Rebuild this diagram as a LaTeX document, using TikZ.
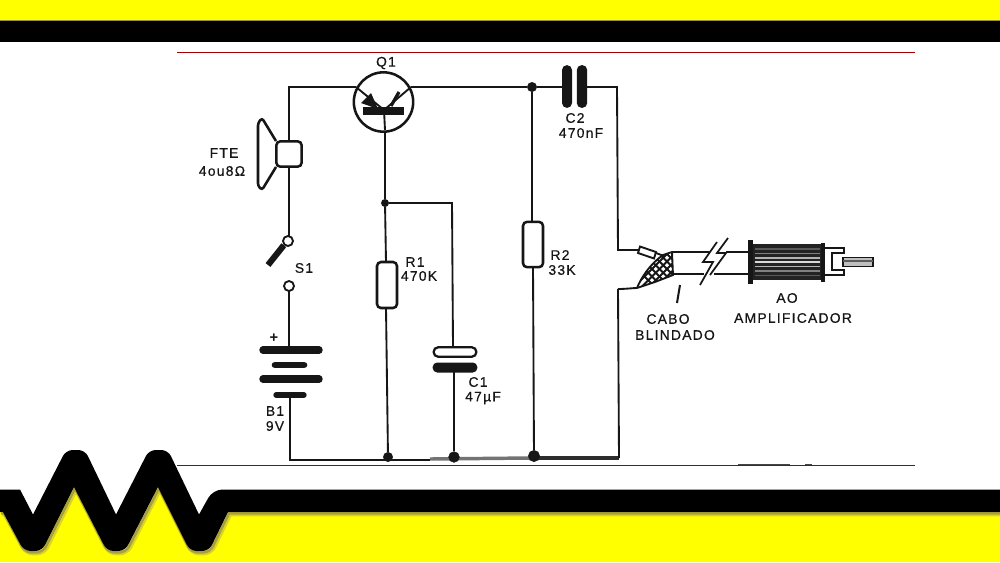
\documentclass[tikz,border=0pt]{standalone}
\usepackage{fontspec}
\setmainfont{Liberation Sans}
\newfontfamily\lab[LetterSpace=9,FakeBold=0.5]{Liberation Sans}
\usetikzlibrary{arrows.meta}
\definecolor{bandyellow}{RGB}{255,255,0}
\definecolor{rulered}{RGB}{160,0,0}
\definecolor{ink}{RGB}{22,22,22}
\tikzset{
  wire/.style={draw=ink,line width=1.4pt},
  plate/.style={draw=ink,line width=5.6pt,line cap=round},
  dot/.style={circle,fill=ink,draw=ink,inner sep=0pt,minimum size=7pt},
  openc/.style={circle,draw=ink,line width=1.4pt,fill=white,inner sep=0pt,minimum size=7.5pt},
  body/.style={draw=ink,line width=1.9pt,fill=white,rounded corners=3pt},
  lbl/.style={font=\lab\fontsize{10.4}{11}\selectfont,text=ink,inner sep=0pt},
  redrule/.style={draw=rulered,line width=1pt},
}
\begin{document}
\begin{tikzpicture}[x=0.75pt,y=-0.75pt]
\useasboundingbox (0,0) rectangle (1000,562);
\fill[white] (0,0) rectangle (1000,562);
% top band
\fill[bandyellow] (0,0) rectangle (1000,20);
\fill[yellow!55!black] (0,19.5) rectangle (1000,21);
\fill[black] (0,21) rectangle (1000,41.5);
% bottom band
\def\lowedge{(0,512) -- (3,512) [rounded corners=5pt] -- (24,551) -- (42,551) [sharp corners] -- (74,487) [rounded corners=5pt] -- (107,551) -- (125,551) [sharp corners] -- (158,487) [rounded corners=5pt] -- (190,551) -- (209,551) [sharp corners] -- (228,512) -- (1000,512)}
\fill[bandyellow] \lowedge -- (1000,562) -- (0,562) -- cycle;
\draw[yellow!85!black,line width=3.4pt,shift={(2,2)}] \lowedge;
\draw[yellow!60!black,line width=1.8pt,shift={(1,1.5)}] \lowedge;
\fill[black] (0,489.5) -- (20,489.5) -- (33,514.5) [rounded corners=5pt] -- (66,450) -- (85,450) [sharp corners] -- (116,514.5) [rounded corners=5pt] -- (149,450) -- (168,450) [sharp corners] -- (199,514.5) [rounded corners=7pt] -- (213,489.5) [sharp corners] -- (1000,489.5) -- (1000,512) -- (228,512) [rounded corners=5pt] -- (209,551) -- (190,551) [sharp corners] -- (158,487) [rounded corners=5pt] -- (125,551) -- (107,551) [sharp corners] -- (74,487) [rounded corners=5pt] -- (42,551) -- (24,551) [sharp corners] -- (3,512) -- (0,512) -- cycle;
% red rules
\draw[redrule] (177,52.5) -- (915,52.5);
\draw[redrule] (177,465.5) -- (915,465.5);
\fill[ink!80] (738,463.8) rectangle (790,464.8);
\fill[ink!80] (805,463.8) rectangle (812,464.8);

% heavy part of the return line, under the junctions
\draw[draw=ink!60,line width=2.6pt] (430,459) -- (530,458);
\draw[draw=ink!90,line width=2.8pt] (530,458) -- (619,458);

% named points
\coordinate (tl) at (289,87);
\coordinate (bl) at (290,460);
\coordinate (em) at (356,87);
\coordinate (co) at (411,87);
\coordinate (bs) at (384,110);
\coordinate (c1top) at (453,347);
\coordinate (cr1) at (452,203);
\coordinate (c2l) at (567,87);
\coordinate (c2r) at (582,87);
\coordinate (cut) at (617,87);
\coordinate (cc1) at (618,250);
\coordinate (cc2) at (640,250);
\coordinate (br1) at (619,458);
\coordinate (br2) at (618,289);
\node[dot] (j1) at (532,87) {};
\node[dot,minimum size=5.5pt] (j2) at (385,203) {};
\node[dot,minimum size=7pt] (j3) at (388,457) {};
\node[dot,minimum size=8pt] (j4) at (454,457) {};
\node[dot,minimum size=8.5pt] (j5) at (534,456) {};

% wires
\draw[wire] (em) -- (tl) -- (289,141);
\draw[wire] (289,167) -- (289,236);
\draw[wire] (co) -- (j1) -- (c2l);
\draw[wire] (c2r) -- (cut) -- (cc1) -- (cc2);
\draw[wire] (385,130) -- (j2) -- (386,262);
\draw[wire] (386,308) -- (j3);
\draw[wire] (j2) -- (cr1) -- (c1top);
\draw[wire] (454,370) -- (j4);
\draw[wire] (j1) -- (532,222);
\draw[wire] (533,267) -- (j5);
\draw[wire] (289,291) -- (289,350);
\draw[wire] (290,395) -- (bl) -- (430,460);
\draw[wire] (br2) -- (br1);

% transistor
\node[circle,draw=ink,line width=1.9pt,fill=white,inner sep=0pt,minimum size=44.5pt] (q) at (383.5,102) {};
\draw[wire] (em) -- (bs);
\draw[wire] (co) -- (bs);
\fill[ink] (378,109) -- (361,103) -- (371,93) -- cycle;
\draw[ink,line width=2.4pt] (399,92) -- (391,106);
\fill[ink] (363,107) rectangle (404,114.5);
\draw[wire] (bs) -- (385,130);

% speaker
\draw[draw=ink,line width=1.9pt,fill=white,rounded corners=2pt] (276,141) -- (262,118) -- (258,123) -- (258,186) -- (262,190) -- (276,167);
\node[draw=ink,line width=1.9pt,fill=white,rounded corners=3pt,minimum width=19pt,minimum height=19pt,inner sep=0pt] (spk) at (289,154) {};

% switch
\node[openc] (s1a) at (288,241) {};
\node[openc] (s1b) at (289,286) {};
\draw[draw=ink,line width=4.6pt] (s1a.south west) -- (268,265);

% battery
\draw[plate] (263,350) -- (319,350);
\draw[plate,line width=5pt] (275,365) -- (304,365);
\draw[plate] (263,379) -- (319,379);
\draw[plate,line width=4pt] (276,395) -- (304,395);

% R1, R2
\node[body,minimum width=15pt,minimum height=34.5pt,inner sep=0pt] (r1) at (387,285) {};
\node[body,minimum width=15pt,minimum height=34pt,inner sep=0pt] (r2) at (533,244.5) {};

% C1
\node[draw=ink,line width=1.7pt,fill=white,rounded corners=3.3pt,minimum width=32pt,minimum height=7pt,inner sep=0pt] (c1a) at (455,352) {};
\node[fill=ink,rounded corners=3.4pt,minimum width=33.5pt,minimum height=7.5pt,inner sep=0pt] (c1b) at (455,367.5) {};

% C2
\node[fill=ink,rounded corners=3.6pt,minimum width=7.5pt,minimum height=32pt,inner sep=0pt] (c2a) at (567,86.5) {};
\node[fill=ink,rounded corners=3.6pt,minimum width=7.8pt,minimum height=32pt,inner sep=0pt] (c2b) at (582,86.5) {};

% cable: braid
\begin{scope}
\clip (672,252) -- (673,275) -- (655,282) -- (637,288) -- (641,280) -- (647,270) -- (655,262) -- (663,255) -- cycle;
\fill[white] (630,245) rectangle (680,295);
\foreach \i in {0,7.5,...,75}{
  \draw[ink,line width=1.5pt] (626+\i,295) -- (626+\i+45,250);
  \draw[ink,line width=1.5pt] (618+\i,250) -- (618+\i+45,295);
}
\end{scope}
\draw[wire] (672,252) -- (673,275) -- (655,282) -- (637,288);
\draw[wire] (637,288) .. controls (641,278) and (650,264) .. (663,255) -- (672,252);
\draw[wire] (br2) .. controls (626,289) and (633,288) .. (637,288);
% inner conductor
\draw[draw=ink,line width=1.4pt,fill=white] (640,246.5) -- (656,252) -- (654,258.5) -- (638,253) -- cycle;
\draw[wire] (656,253) -- (664,256);
% outer lines
\draw[wire] (672,252) -- (710,252);
\draw[wire] (673,274) -- (704,274);
\draw[wire] (726,252) -- (748,252);
\draw[wire] (714,274) -- (748,274);
% break marks
\draw[ink,line width=1.3pt] (717,242) -- (703,262) -- (713,262) -- (700,285);
\draw[ink,line width=1.3pt] (728,238) -- (717,253) -- (726,253) -- (710,275);
% marker
\draw[ink,line width=1.5pt] (680,285) -- (677,303);

% plug
\fill[ink] (748,240) rectangle (753,284);
\fill[ink!95] (753,244) rectangle (821,280);
\foreach \y/\c in {249/35,253.5/50,258/70,262/85,266.5/70,271/50,275.5/35}{
  \draw[white!\c!black,line width=0.8pt] (755,\y) -- (820,\y);
}
\fill[ink] (821,243) rectangle (824.5,282);
\draw[draw=ink,line width=1.5pt] (824.5,248) -- (844,248) -- (844,253) -- (832,253) -- (832,270) -- (844,270) -- (844,275) -- (824.5,275);
\draw[draw=ink,line width=1.1pt,fill=white!75!black] (843,257.5) rectangle (873,266.5);
\draw[ink!70,line width=0.8pt] (843,261) -- (873,261);

% labels
\node[lbl] (t1) at (386,63) {Q1};
\node[lbl] (t2) at (224,153) {FTE};
\node[lbl] (t3) at (222,171) {4ou8Ω};
\node[lbl] (t4) at (304,268) {S1};
\node[lbl,font=\bfseries\fontsize{11}{12}\selectfont] (t5) at (274,338) {+};
\node[lbl] (t6) at (275,411) {B1};
\node[lbl] (t7) at (275,426) {9V};
\node[lbl] (t8) at (415,262) {R1};
\node[lbl] (t9) at (419,276) {470K};
\node[lbl] (t10) at (478,382) {C1};
\node[lbl] (t11) at (483,398) {47µF};
\node[lbl] (t12) at (575,118) {C2};
\node[lbl] (t13) at (581,133) {470nF};
\node[lbl] (t14) at (560,255) {R2};
\node[lbl] (t15) at (562,270) {33K};
\node[lbl] (t16) at (668,319) {CABO};
\node[lbl] (t17) at (675,335) {BLINDADO};
\node[lbl] (t18) at (787,298) {AO};
\node[lbl] (t19) at (793,318) {AMPLIFICADOR};
\end{tikzpicture}
\end{document}
